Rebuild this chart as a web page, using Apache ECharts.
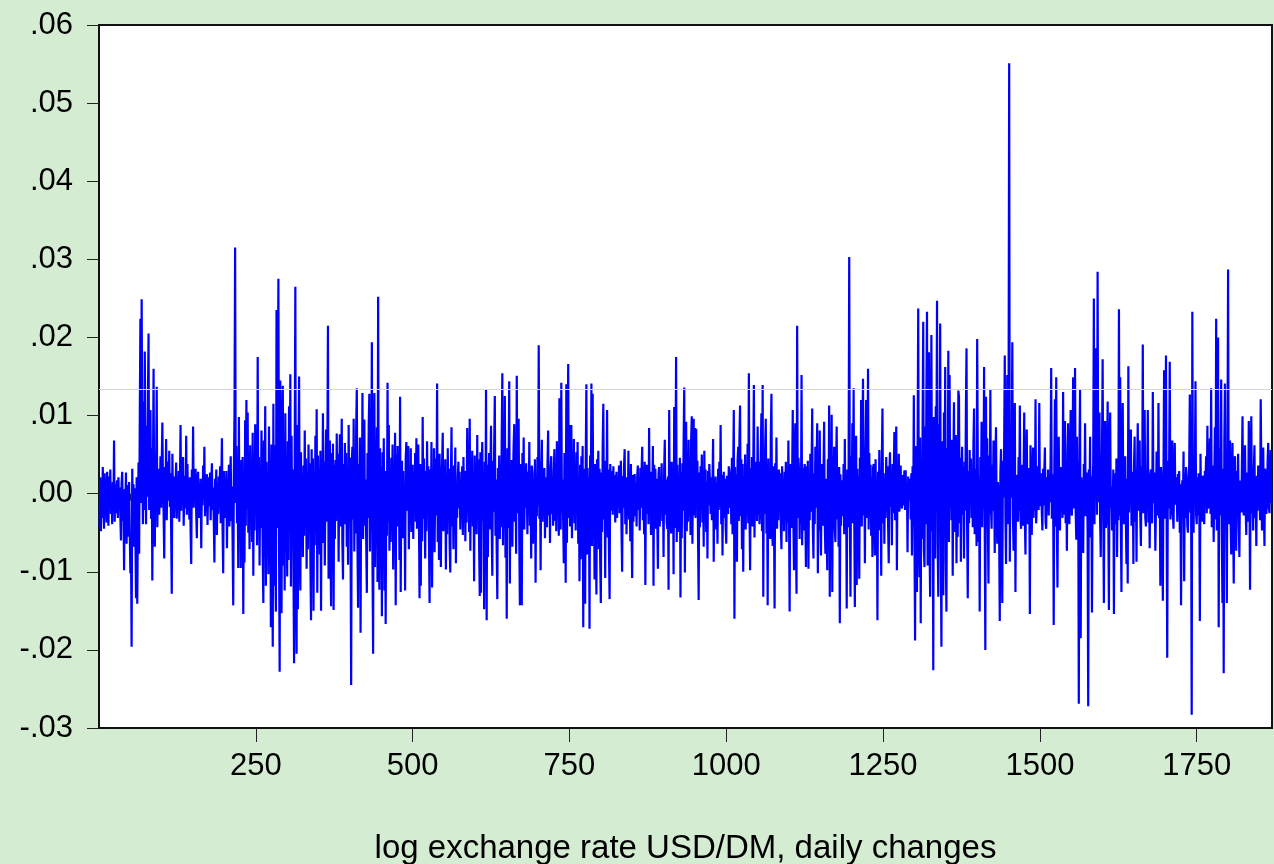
<!DOCTYPE html>
<html><head><meta charset="utf-8">
<script src="https://cdn.jsdelivr.net/npm/echarts@6/dist/echarts.min.js"></script>
<style>html,body{margin:0;padding:0;background:#d4ecd2;}#c{width:1274px;height:864px;}</style>
</head><body><div id="c"></div>
<script>
const chg_0001_0250 = [
-.0042,.0021,-.0048,.0018,-.0031,.0034,-.0008,-.0045,.0026,-.0012,.0019,-.0037,.0028,.0005,-.0041,.0022,-.0018,.0031,-.0026,.0009,-.0039,.0015,-.0022,.0068,-.0036,
.0012,-.0025,.0009,.0017,-.0031,.0021,-.0014,.0008,-.0029,-.006,.0013,.0028,-.0035,-.0012,-.0098,.0006,-.0021,.0027,-.0064,.0011,-.0055,-.0018,.0015,-.0047,-.0102,
-.0063,-.0196,.0032,-.0025,.0012,-.0068,.0007,-.0048,-.0134,.0021,-.0141,-.0036,.004,-.0077,.0095,.0224,-.0012,.0249,.0062,-.0039,.0118,-.0021,.0182,.0035,-.0039,
.0087,-.0004,.0124,.0205,-.0021,.0046,.0107,-.0032,.0058,-.0111,.0024,.016,-.0015,-.0068,.0051,.0023,.0137,-.0043,.0019,.0032,-.0027,.0000,.0048,-.0018,.0036,
.0091,.0012,-.0026,-.0083,.0034,-.0011,.007,-.0034,.0018,.0041,-.0009,.0055,-.0017,.0026,-.0045,-.0128,.0051,-.0006,.0022,-.0031,.0013,.0008,.004,-.0032,.0017,
-.0014,.0029,-.0036,.0011,.0088,-.0022,.0035,-.0008,.0047,-.0041,.0016,.0023,-.0019,.0074,-.0027,.0038,-.0012,.0009,-.0033,.0021,-.0047,-.009,.0031,-.0015,.0086,
-.0018,.0024,-.0009,.0032,-.0026,-.0057,.0014,.0028,-.0031,.0007,-.0022,.0019,-.007,.0012,-.0015,.0036,-.0008,.006,-.0029,.0017,-.0011,.0025,-.004,.0009,.0021,
-.0016,.0027,-.0034,.0011,.0039,-.0021,.0008,-.0035,-.0088,.0019,-.0007,.0031,-.0053,.0014,-.0026,.0022,-.0012,.0035,-.0038,.0016,.0071,-.0045,-.0102,.0029,-.0017,
.0018,-.0031,.0029,-.007,.0013,-.0024,.0037,-.0042,.0021,.0048,-.0035,.0009,-.0061,-.0143,.0026,.0102,.0315,-.0012,.0061,-.0038,.0024,-.0095,.0098,-.0046,.0031,
-.0095,.0043,-.0028,.0047,-.0154,.0018,-.0088,.0094,-.0041,.012,-.0019,.0104,-.005,.0036,-.0071,.0062,-.0033,.0025,-.0062,.0078,-.0105,.0031,-.0047,.0089,-.0024
];
const chg_0251_0500 = [
.0052,-.0066,.0175,-.0038,.0047,-.0092,.0021,-.0044,.0081,.0033,-.0079,-.014,.0068,-.0025,.0112,-.0118,.0041,-.0057,.0029,-.0103,.0086,-.0035,.0045,-.0171,.0063,
-.0052,-.0196,.0115,-.0118,.0062,-.0083,-.0151,.0235,-.0044,.0092,.0275,-.0061,-.0228,.0145,-.0037,-.0153,.0081,.0138,-.0092,.0056,-.0124,.0103,-.0071,.0038,-.0106,
.0067,-.0085,.0112,-.0046,.0153,-.0119,.0074,-.0058,.0031,-.0093,-.0217,.0046,.0265,-.0112,-.0205,.0088,-.0148,.0042,.015,-.0067,-.0124,.0053,-.0029,.0024,-.0081,
.0036,-.0054,.0081,-.0032,.0045,-.0096,.0028,-.0071,.0063,-.0018,.0039,-.0084,-.0162,.0057,-.0043,.0045,-.015,.0022,-.0066,.0074,-.0035,.0108,-.0127,.0049,-.0021,
.0032,-.0078,.0055,-.015,.0026,-.0047,.0103,-.0063,.0041,-.0092,.0019,.0082,-.0036,.0046,.0215,-.0109,.0033,.0068,-.0071,-.0144,.0052,-.0028,.0064,-.0149,.0037,
-.0058,.0043,-.0035,.0077,-.0024,.0051,-.0087,.0019,.0076,-.0042,.0027,.0096,-.0063,-.011,.0038,-.0015,.0065,-.0039,.0052,-.0068,.0024,-.0091,.0088,-.0031,.0046,
-.0052,-.0245,.0041,.006,-.0033,.0096,-.0074,.0027,-.0051,.0084,.0135,-.0062,-.0146,.0038,-.0019,.0072,-.0178,.0044,-.0035,.0129,-.0058,.0023,.0095,-.0041,.0018,
-.0063,-.0127,.0052,-.0031,.0089,.0128,-.0074,.0036,-.0048,.0194,-.0088,-.0205,.0067,.0129,-.0094,.0041,-.0026,.0085,-.0113,.0252,-.0037,-.0123,.0058,-.0069,.0034,
-.0157,.0053,-.0038,.0071,-.0124,.0029,-.0167,.0017,-.0054,.0142,-.0036,.0088,-.0073,.0021,-.0062,.0046,-.0019,.0063,-.0097,.0034,-.0051,.0078,-.0143,.005,-.0028,
.0061,-.0042,.0033,-.0085,.0124,-.0126,.0018,.0042,-.0057,.0029,-.0038,.0012,-.0124,.0047,.0066,-.0022,.0039,.0061,-.0071,.0025,-.0033,.0058,-.0049,.0014,.0037
];
const chg_0501_0750 = [
-.0058,.0027,-.0019,.0052,-.0036,.0071,-.0045,.0016,.0063,-.0027,-.0134,.0038,-.0118,.0024,-.0061,.0098,-.0032,.0045,-.0017,-.0083,.0029,-.0048,.0067,-.0021,.0035,
-.0052,-.014,.0031,-.0043,.0066,-.012,.0024,-.0037,.0058,-.0075,.0019,.0045,-.0028,.0141,-.0062,.0033,-.0085,.0051,-.0026,-.0094,.0012,.0039,.0078,-.0048,.0026,
-.0036,.0044,-.0097,.0021,-.0052,.0058,-.0017,.0032,-.0064,-.0101,.0018,.0085,-.0042,.0027,-.0071,.0036,-.0024,.0059,-.0089,.0014,-.0031,.0023,.0041,-.0019,.0028,
-.0046,.0017,-.0028,.0035,-.0053,.0047,-.0014,.0029,-.0061,.0022,-.0037,.0084,-.0025,.0043,-.0049,.0096,-.0073,.0031,-.0018,.0055,-.0042,.0026,-.0112,.0049,-.0034,
.0038,-.0052,.0075,-.0027,.0044,-.0068,-.0131,.0053,-.0127,.0019,.0066,-.0035,.0028,-.0148,.0041,-.0063,.0133,-.0162,.0037,-.0081,.0024,.0052,-.0046,.0029,.0087,
-.0038,-.0105,.0042,-.0023,.0061,.0125,-.0054,.0018,-.0071,-.0135,.0033,-.0019,.0049,-.0058,.0036,-.0043,.0071,.0154,-.0066,.0027,-.0039,.0125,-.0082,.0046,-.016,
.0058,-.0044,.0031,.0144,-.0115,.0026,-.0051,.0043,-.0068,.0017,.0062,.0089,-.0036,.0024,-.0077,.0151,-.0025,.0047,.0096,-.0059,-.0143,.0038,-.0021,-.0143,.0052,
-.0034,.0072,-.0046,.0021,-.0018,.0039,.0003,-.0052,.0028,-.0027,.0066,-.0041,.0015,-.0083,.0036,.0026,-.0064,.0019,-.0038,.0044,-.0114,.0023,-.0029,.0047,-.0015,
.019,-.0032,.0041,-.0098,.0025,.0069,-.0036,.0018,-.0024,.0033,-.0057,.0021,.0011,-.0043,.0037,.0081,-.0028,.0015,-.0063,.0034,.0048,-.0026,.0019,-.0041,.0029,
.0057,-.0035,.0022,-.0048,.0067,-.0021,.0038,-.0054,.0122,.0031,-.0046,.0142,-.0025,.0018,-.0037,-.0089,.0052,.0024,-.0114,.014,-.0063,.0045,.0166,-.0031,.0088
];
const chg_0751_1000 = [
-.0042,.0026,.0088,-.0057,.0034,-.0019,.007,-.0038,.0021,-.0047,.0053,-.0026,.0066,-.0064,.0015,-.0112,.0037,-.0084,.0048,-.0029,.0061,-.0171,.0032,-.0098,-.0141,
.0046,.014,-.0078,.0033,-.0052,.0021,-.0173,.0049,-.0036,.0141,-.0067,.0128,-.0041,.0025,-.011,.0038,-.0058,-.0129,.0044,-.0023,.0055,-.0071,.0032,-.0086,-.014,
.0027,-.0049,.0061,.0115,-.0033,.0018,-.0108,.0042,-.0024,.0107,-.0056,.0031,-.0072,-.0135,.0038,.0016,-.0022,.0029,-.0027,.0035,-.0019,.0024,-.0037,.0012,.0028,
-.0031,.0019,-.0014,.0036,-.0025,.0011,.0042,-.0047,-.01,.0023,-.0018,.0034,.0057,-.0039,.0021,-.0052,.0017,-.0028,.0055,-.0033,.0026,-.0061,.0038,-.0045,-.0108,
.0024,-.0036,.0018,.0025,-.0029,.0013,-.0042,.0022,.0036,-.0021,.0015,-.0047,.0033,-.0018,.0027,.006,-.0034,.0019,-.0052,.0041,-.0117,.0024,.0037,-.0026,.0031,
-.0039,.0084,-.0021,.0015,-.0053,.0028,-.0017,.0061,-.0118,.0037,-.0024,.0032,-.0045,.0019,-.0031,-.0096,.0026,.0034,-.0042,.0017,-.0028,.0039,-.0035,.0011,-.0081,
.0031,.0069,-.0027,.0018,-.0036,-.0045,.0022,-.0123,.0107,-.0038,.0026,-.0051,.0041,-.0017,.0033,-.0103,.0111,-.0044,.0029,.0175,-.0062,.0037,-.0049,.0021,-.0033,
.0046,-.0133,.0028,-.0057,.0039,-.0022,.0064,.0136,-.0101,.0034,.0092,-.0048,.0025,-.0036,.0069,-.0029,.0044,-.0053,.0068,.0099,-.0064,.0041,.0096,-.0028,.0084,
-.0031,.0083,-.0019,.0042,-.0058,-.0136,.0027,-.0043,.0035,-.0021,.005,-.0037,.0018,-.0068,.0055,-.0024,.0031,-.0049,.0016,-.0083,.0029,-.0015,.0038,.0013,-.0026,
.0021,-.0034,.0007,.007,-.0087,.0019,-.0028,.0022,-.0046,.0015,-.0064,.0032,-.0021,.0041,-.0017,.0088,-.0039,.0024,-.0079,.0013,.0028,-.0031,.0019,-.0042,-.0064
];
const chg_1001_1250 = [
.0023,.0013,-.0026,.0035,.003,-.0018,.0027,-.0039,.0046,-.0052,.0021,.0107,-.016,.0034,-.0048,.0025,-.0087,.0041,.006,-.0035,.0072,.0113,-.0029,.0044,-.0071,
.0038,-.01,.0022,-.0031,.005,-.0046,.0019,-.0027,.0064,-.0038,.0154,-.0021,-.0098,.0033,-.0017,.0047,-.0042,.0029,.0139,-.0056,.0023,-.0019,.0041,-.0035,.0086,
-.0027,.0041,-.0039,-.0015,.0052,.0103,-.0048,.0139,-.0132,.0037,-.0026,.0061,.0096,-.0051,.0028,-.0143,.0045,-.0033,.0024,-.0058,.0072,.0128,-.0041,-.0067,.0035,
-.0022,-.0147,.0039,-.0028,.0072,-.0045,.0017,-.0034,.0031,-.0019,.0026,-.0042,-.0071,.0035,-.0023,.0018,-.0048,.0028,-.0016,.0041,-.0062,.0029,-.0037,.0068,-.0025,
-.0151,.0027,.0038,-.0044,.0023,.0107,-.0036,-.0098,.0041,.009,-.0052,-.0128,.0215,-.0031,.0046,.003,-.0058,.0024,-.0039,.0152,-.0066,.0033,-.0047,.0019,.0038,
-.0021,-.0094,.0035,-.0028,.0042,-.0096,.0017,-.0034,.0051,-.0023,.0031,.0109,-.0045,-.0083,.0026,-.0039,.006,-.0018,.0037,.009,-.0102,.0024,-.0047,.0081,-.0032,
-.0079,.0026,.0038,-.0041,.0023,.0092,-.0036,-.0077,.0019,-.0052,-.0098,.0044,-.0027,.0113,-.0132,.0039,-.0024,.0101,-.0126,.0048,-.0031,.006,-.0045,-.0062,.0028,
.0086,-.0033,.0021,-.0068,.0034,-.0166,.0025,-.0041,.0017,.0004,-.0029,.0038,-.0052,.007,-.0037,.0024,-.0147,.0031,-.0043,.0019,.0303,-.0026,-.0132,.0048,-.0017,
.009,-.0038,.0135,-.0027,-.0145,.0041,.0074,-.0117,.0032,-.0051,.0023,-.0109,.0046,-.0035,.012,-.0042,.0067,.0147,-.0028,.0036,-.0089,.0054,.012,-.0031,.0048,
.016,-.0046,.0052,-.0029,.0037,-.0054,.0021,-.0081,.0033,.0038,-.0026,-.0079,.0044,-.0035,.0019,-.0162,.0028,-.0047,.0056,-.0023,.0031,-.0105,.0042,.0109,-.0038
];
const chg_1251_1500 = [
.0026,-.0064,.0018,-.0031,.0047,-.0022,.0035,-.0041,-.0089,.0024,.0053,-.0017,.0029,-.0066,.0038,-.0025,.0021,.0079,-.0034,.0042,.0086,-.0098,.0027,-.0019,.0051,
-.0023,.0017,.0036,-.0012,-.0019,.0024,-.0015,.0011,.003,-.0021,.003,-.0018,.0014,-.0075,.0022,-.0009,.0000,.0019,-.0033,.0026,-.0079,.0035,-.0041,.0126,-.0052,
-.0188,.0061,.0034,-.0126,.0048,.0237,-.0035,-.0107,.0072,-.0166,.0043,-.0058,.0091,.022,-.0071,-.0094,.0086,-.0039,.0127,.0233,-.0092,.0054,.0181,-.0063,-.0132,
.0075,.0203,-.0048,.0036,-.0226,.0098,-.0017,-.0083,.0112,.0052,.0247,-.0064,-.0132,.0089,-.0028,.0218,-.0071,-.0196,.0067,.0031,-.013,.0104,-.0045,.0162,-.0087,
-.0151,.0058,-.0036,.0183,-.0062,.0152,-.0017,.0041,-.0034,.0069,-.0105,.0028,.0117,-.0049,.0032,.0075,-.0089,.0023,-.0055,.0132,.0124,-.0038,.0046,-.0087,.0019,
.006,-.0027,.0034,-.0083,.0041,-.0022,.0105,.0186,-.0045,-.0134,.0029,-.0038,.0056,-.0016,.0045,-.0031,.0024,-.0043,.0061,.0109,-.0052,.0028,.0032,-.0067,.0198,
.0035,-.0062,.0021,-.0151,.0047,-.0028,.0092,-.0043,.0038,-.0019,.0162,-.0035,-.02,.0124,-.0027,.0071,-.0038,-.0115,.0049,-.0026,.0133,-.0018,-.0045,.0037,-.0022,
.0068,.0024,-.0076,.0039,.0085,-.0021,-.0064,.0015,.0003,-.0047,-.0163,.0026,.0057,-.0035,-.014,.0042,-.0005,.0061,.0177,-.0028,-.009,.0046,.0152,-.0039,.0087,
.0551,-.0087,.0032,-.0005,.0041,.0194,-.0029,-.0073,.0038,.0116,-.0126,.0024,.002,-.0018,-.0036,.0047,-.0022,.0113,-.0031,-.0045,.0028,.0037,-.0041,.0019,.0104,
-.0034,-.0078,.0026,.0082,-.0015,-.0039,.0021,.0033,-.0154,.0062,-.0027,-.0053,.0018,.0059,-.0031,.0044,-.0022,.0121,-.0038,-.0016,.0027,.0035,-.0021,.0116,-.0016
];
const chg_1501_1750 = [
.0018,.0026,-.0024,-.0047,.0032,-.0015,.0029,.0059,-.0036,-.0045,.0021,-.0012,.0031,-.0028,.0017,-.0011,.0042,.0161,-.0032,-.0008,.0025,-.0168,.0039,.0121,-.0042,
.0149,-.0036,-.012,.0028,.0073,-.0019,-.0047,.0034,-.0016,.0022,-.0031,.013,-.0027,-.0005,.0093,-.0038,.0024,-.0073,.0051,.009,-.0026,-.0039,.0031,.0107,-.0018,
-.0028,.0046,.0149,-.0019,.0035,.0161,-.0022,-.0059,.0073,-.0034,.0041,-.0269,.0052,.0133,-.0185,.0021,.0006,-.0047,-.0076,.0038,-.0015,.009,-.0029,-.0031,.0027,
-.0046,-.0272,.0031,-.0018,.0073,-.0056,.0022,-.0152,.0012,.0038,.025,-.0039,.0064,.0186,.0101,-.0027,.0284,-.0011,.0043,.0104,-.0035,-.0081,.0029,.0052,.0172,
-.0025,-.014,.0037,.0093,-.0044,-.0033,.0028,.0118,-.0021,-.0149,.0036,.0104,-.0018,.0009,-.0047,-.0022,.0031,-.0154,.0026,.002,-.0039,.0045,-.0081,.0017,-.0034,
.0236,-.0028,.0149,-.0037,-.0126,.0042,.0116,-.0023,-.0039,.0027,.0048,-.0031,-.009,.0019,-.0115,.0163,-.0024,.0015,.0036,.0082,-.0041,-.0005,.0028,-.009,.0034,
.0073,-.0036,.0024,-.0087,.0031,.009,-.0022,.0017,.0068,-.0029,-.0067,.0035,-.0014,.0191,-.0025,.0039,.0107,-.0031,-.0042,.0026,.0018,.0107,-.0037,.0022,-.007,
.0024,.0031,-.0019,-.0038,.013,-.0012,-.0002,.0027,-.0073,-.0021,.0054,.0036,-.0028,.0116,-.0031,.0019,-.0118,.0034,.0015,-.0045,-.0137,.0023,.0158,-.0032,.0061,
.0177,-.0028,-.021,.0042,-.0019,.0037,.0169,-.0033,-.0016,.0024,.0068,-.0027,-.0045,.0031,.0065,-.0014,.0021,.0017,-.0036,.0025,-.0005,.0029,-.005,.0012,-.0143,
-.0022,.0017,-.0018,.0054,-.0112,.0026,-.0031,.0034,.0012,-.0041,-.005,.0019,.0036,.0127,-.0024,.0009,-.0283,.0233,-.0036,-.005,.0041,.0018,.0144,-.0027,-.0039
];
const chg_1751_1869 = [
.0021,-.0028,.0026,.0013,-.0163,.0051,-.0022,-.0036,.0017,.0023,-.0031,-.0039,.0029,.0016,.0048,-.0025,.0087,-.0019,-.0014,.0038,.0071,-.0026,.0135,-.0043,-.0031,
.0036,-.0062,.0019,.0085,-.0033,.0224,-.0047,-.0022,.02,-.0171,.0058,-.0028,.0041,.0146,-.0053,-.014,.0032,-.023,.0067,.0141,-.0038,-.0019,-.014,.0052,.0287,
-.0039,.0024,.0068,-.0031,-.0078,.0022,.0065,-.0027,-.0115,.0036,.0048,-.0021,-.0073,.0029,-.0018,.0051,-.0034,-.0081,.0017,.0001,-.0024,.0033,.0099,-.0015,-.0028,
.0031,.0062,-.0019,-.0053,.0027,.0012,-.0036,.0093,.0018,-.0123,.0034,.0099,-.0025,-.0002,-.0047,.0028,.0062,-.0031,.0015,-.0067,.0023,-.0022,.0036,-.0014,.0012,
-.0034,.0121,.0028,-.0047,.0019,.0059,-.0021,-.0067,.0032,.0017,-.0026,-.0008,.0041,.0065,-.0018,-.0025,.0034,.0056,-.0012
];

const X_TICKS = [250, 500, 750, 1000, 1250, 1500, 1750];
const Y_MIN = -0.03, Y_MAX = 0.06, Y_STEP = 0.01;
const REF_LEVEL = 0.0134;
const TITLE = 'log exchange rate USD/DM, daily changes';

const changes = [].concat(chg_0001_0250, chg_0251_0500, chg_0501_0750, chg_0751_1000,
  chg_1001_1250, chg_1251_1500, chg_1501_1750, chg_1751_1869);
const N = changes.length;
const X_MAX = N + 1;
const seriesData = changes.map((v, i) => [i + 1, v]);
const minorTicks = [];
for (let t = 25; t < X_MAX; t += 25) { if (t % 250 !== 0) minorTicks.push(t); }

function fmtY(v) {
  if (Math.abs(v) < 1e-9) return '.00';
  return v.toFixed(2).replace(/^(-?)0\./, '$1.');
}

const FONT = "'Liberation Sans', Arial, sans-serif";
const chart = echarts.init(document.getElementById('c'), null, { renderer: 'canvas' });
chart.setOption({
  backgroundColor: '#d4ecd2',
  animation: false,
  grid: { left: 99, top: 25, right: 2, bottom: 136, show: true, backgroundColor: '#ffffff',
          borderColor: '#111', borderWidth: 2, containLabel: false, outerBoundsMode: 'none' },
  xAxis: [
    { type: 'value', min: 0, max: X_MAX, position: 'bottom',
      axisLine: { show: true, onZero: false, lineStyle: { color: '#111', width: 2 } },
      axisTick: { show: true, length: 14, customValues: X_TICKS, lineStyle: { color: '#222', width: 1 } },
      axisLabel: { show: true, customValues: X_TICKS, margin: 23, fontSize: 31, color: '#000', fontFamily: FONT,
                   formatter: v => String(v) },
      splitLine: { show: false },
      name: TITLE, nameLocation: 'middle', nameGap: 104,
      nameTextStyle: { fontSize: 33, color: '#000', fontFamily: FONT } },
    { type: 'value', min: 0, max: X_MAX, position: 'bottom', offset: 0,
      axisLine: { show: false },
      axisTick: { show: true, length: 7, customValues: minorTicks, lineStyle: { color: '#222', width: 1 } },
      axisLabel: { show: false }, splitLine: { show: false } }
  ],
  yAxis: { type: 'value', min: Y_MIN, max: Y_MAX, interval: Y_STEP,
    axisLine: { show: true, onZero: false, lineStyle: { color: '#111', width: 2 } },
    axisTick: { show: true, length: 12, lineStyle: { color: '#222', width: 1 } },
    axisLabel: { margin: 26, fontSize: 31, color: '#000', fontFamily: FONT, formatter: fmtY, padding: [0, 0, 8, 0] },
    splitLine: { show: false } },
  series: [
    { type: 'line', xAxisIndex: 0, yAxisIndex: 0, data: seriesData, z: 3, showSymbol: false, silent: true,
      lineStyle: { color: '#0000ff', width: 2.2 }, itemStyle: { color: '#0000ff' },
      markLine: { silent: true, symbol: 'none', label: { show: false }, precision: 4,
        lineStyle: { color: '#cfdccf', width: 1, type: 'solid' },
        data: [{ yAxis: REF_LEVEL }] } }
  ]
});
</script>
</body></html>
